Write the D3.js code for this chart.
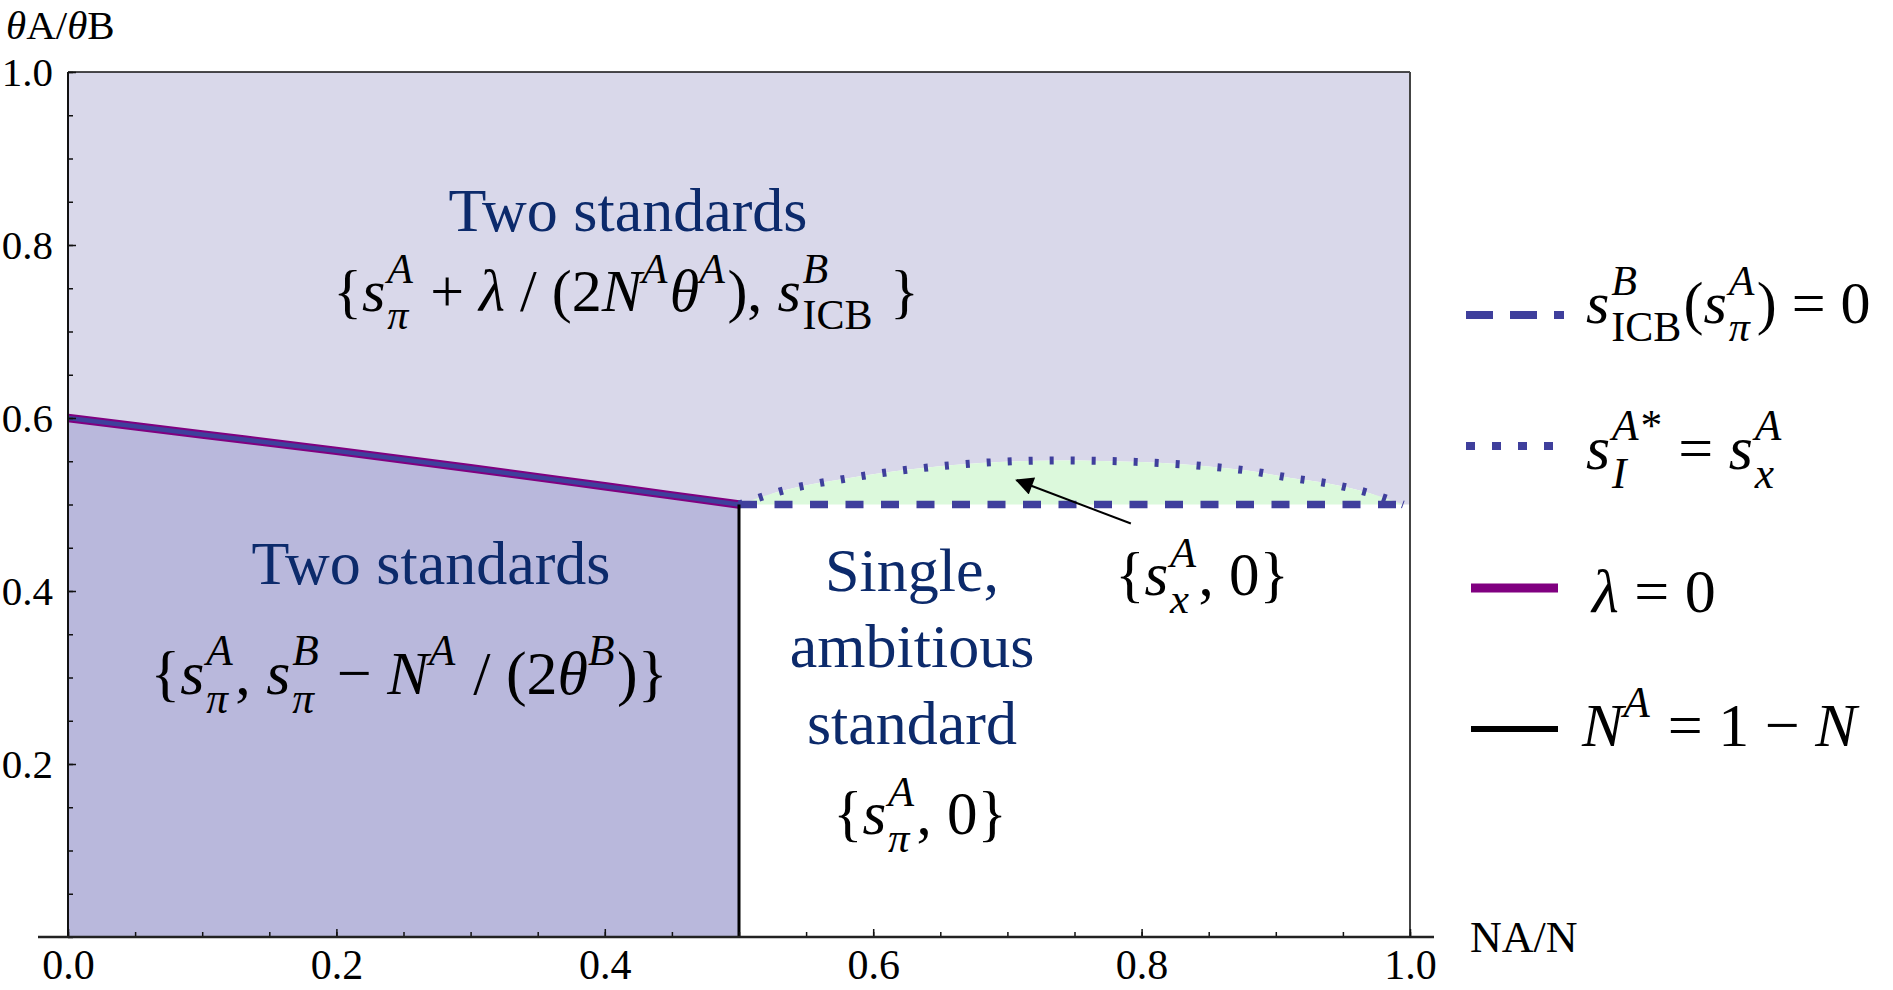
<!DOCTYPE html>
<html>
<head>
<meta charset="utf-8">
<script src="https://cdn.jsdelivr.net/npm/d3@7"></script>
<style>
    body { margin: 0; background: #fff; }
    svg text { font-family: "Liberation Serif", "Times New Roman", serif; white-space: pre; }
</style>
</head>
<body>
<svg id="chart" width="1893" height="990"></svg>
<script>
// lambda = 0 boundary (also where s_ICB^B(s_pi^A) = 0 on the left)
const lambdaX = [0, 0.1, 0.2, 0.3, 0.4, 0.5];
const lambdaY = [0.6, 0.581, 0.562, 0.542, 0.521, 0.5];

// s_ICB^B(s_pi^A) = 0, right part (dashed)
const icbX = [0.5, 0.99];
const icbY = [0.5, 0.5];

// s_I^A* = s_x^A (dotted arc)
const arcX = [0.5, 0.53, 0.58, 0.63, 0.68, 0.74, 0.8, 0.85, 0.88, 0.91, 0.94, 0.97, 0.995];
const arcY = [0.5, 0.515, 0.53, 0.541, 0.548, 0.551, 0.549, 0.544, 0.539, 0.531, 0.524, 0.513, 0.5];

// N^A = 1 - N
const splitX = [0.5, 0.5];
const splitY = [0, 0.5];

const xTickValues = [0, 0.2, 0.4, 0.6, 0.8, 1.0];
const xTickLabels = ['0.0', '0.2', '0.4', '0.6', '0.8', '1.0'];
const yTickValues = [0.2, 0.4, 0.6, 0.8, 1.0];
const yTickLabels = ['0.2', '0.4', '0.6', '0.8', '1.0'];

// arrow pointing at the green region
const arrowFrom = [0.792, 0.478];
const arrowTo = [0.707, 0.528];

const svg = d3.select('#chart');
const xScale = d3.scaleLinear().domain([0, 1]).range([68, 1410]);
const yScale = d3.scaleLinear().domain([0, 1]).range([937, 72]);

const blue = '#3f3f9c';
const purple = '#800080';
const navy = '#0c2a6b';
const serif = '"Liberation Serif", "Times New Roman", serif';

// ---- regions
const lambdaPts = d3.zip(lambdaX, lambdaY);
const arcPts = d3.zip(arcX, arcY);
const upperPts = lambdaPts.concat(arcPts.slice(1)).concat([[xScale.domain()[1], icbY[0]]]);

const curve = d3.curveMonotoneX;

svg.append('path')
    .datum(upperPts)
    .attr('fill', '#d9d8ea')
    .attr('d', d3.area().curve(curve)
        .x(d => xScale(d[0])).y0(d => yScale(d[1])).y1(yScale(1)));

svg.append('path')
    .datum(lambdaPts)
    .attr('fill', '#b9b8dc')
    .attr('d', d3.area().curve(curve)
        .x(d => xScale(d[0])).y0(yScale(0)).y1(d => yScale(d[1])));

svg.append('path')
    .datum(arcPts)
    .attr('fill', '#dcf9dc')
    .attr('d', d3.area().curve(curve)
        .x(d => xScale(d[0])).y0(yScale(icbY[0])).y1(d => yScale(d[1])));

// ---- frame
svg.append('line')
    .attr('x1', xScale(0)).attr('x2', xScale(1))
    .attr('y1', yScale(1)).attr('y2', yScale(1))
    .attr('stroke', '#111').attr('stroke-width', 1.5);
svg.append('line')
    .attr('x1', xScale(1)).attr('x2', xScale(1))
    .attr('y1', yScale(0)).attr('y2', yScale(1))
    .attr('stroke', '#444').attr('stroke-width', 2);

// ---- curves
const line = d3.line().curve(curve).x(d => xScale(d[0])).y(d => yScale(d[1]));

svg.append('path').datum(lambdaPts)
    .attr('fill', 'none').attr('stroke', purple).attr('stroke-width', 8.5)
    .attr('d', line);
svg.append('path').datum(lambdaPts)
    .attr('fill', 'none').attr('stroke', blue).attr('stroke-width', 4.5)
    .attr('d', line);

svg.append('path').datum(arcPts)
    .attr('fill', 'none').attr('stroke', blue).attr('stroke-width', 8)
    .attr('stroke-dasharray', '4,17')
    .attr('d', line);

svg.append('path').datum(d3.zip(icbX, icbY))
    .attr('fill', 'none').attr('stroke', blue).attr('stroke-width', 7.5)
    .attr('stroke-dasharray', '18,17.5')
    .attr('d', line);

svg.append('path').datum(d3.zip(splitX, splitY))
    .attr('fill', 'none').attr('stroke', '#000').attr('stroke-width', 3)
    .attr('d', d3.line().x(d => xScale(d[0])).y(d => yScale(d[1])));

// ---- axes
const minor = d3.range(0, 1.0001, 0.05);

const yAxis = svg.append('g')
    .attr('transform', 'translate(' + xScale(0) + ',0)')
    .call(d3.axisLeft(yScale).tickValues(minor).tickSize(-5).tickFormat(''));
yAxis.select('.domain').remove();
const yMajor = svg.append('g')
    .attr('transform', 'translate(' + xScale(0) + ',0)')
    .call(d3.axisLeft(yScale).tickValues(yTickValues).tickSize(-8).tickPadding(15)
        .tickFormat((d, i) => yTickLabels[i]));
yMajor.select('.domain').remove();
svg.append('line')
    .attr('x1', xScale(0)).attr('x2', xScale(0))
    .attr('y1', yScale(0)).attr('y2', yScale(1))
    .attr('stroke', '#111').attr('stroke-width', 2);

const xAxis = svg.append('g')
    .attr('transform', 'translate(0,' + yScale(0) + ')')
    .call(d3.axisBottom(xScale).tickValues(minor).tickSize(-5).tickFormat(''));
xAxis.select('.domain').remove();
const xMajor = svg.append('g')
    .attr('transform', 'translate(0,' + yScale(0) + ')')
    .call(d3.axisBottom(xScale).tickValues(xTickValues).tickSize(-8).tickPadding(12)
        .tickFormat((d, i) => xTickLabels[i]));
xMajor.select('.domain').remove();
svg.append('line')
    .attr('x1', xScale(0) - 30).attr('x2', xScale(1) + 24)
    .attr('y1', yScale(0)).attr('y2', yScale(0))
    .attr('stroke', '#222').attr('stroke-width', 2.5);

svg.selectAll('g').attr('font-family', serif);
svg.selectAll('.tick line').attr('stroke', '#111').attr('stroke-width', 1.5);
svg.selectAll('.tick text').attr('fill', '#000').style('font-family', serif);
yMajor.selectAll('.tick text').attr('font-size', 41);
xMajor.selectAll('.tick text').attr('font-size', 42);

// ---- math text helper
function mathText(parent, x, y, size, parts, opts) {
    opts = opts || {};
    const g = parent.append('g');
    let cur = 0;
    const add = (str, style, dy, fs) => {
        const t = g.append('text')
            .attr('xml:space', 'preserve')
            .attr('x', cur).attr('y', dy)
            .attr('font-size', fs)
            .attr('font-style', style === 'i' ? 'italic' : 'normal')
            .attr('fill', opts.color || '#000')
            .style('font-family', serif)
            .text(str);
        return t.node().getComputedTextLength();
    };
    parts.forEach(p => {
        const kind = p[0];
        if (kind === 'r' || kind === 'i') {
            cur += add(p[1], kind, 0, size);
        } else if (kind === 'sup') {
            cur += add(p[1], p[2] || 'i', -0.46 * size, 0.7 * size) + 0.04 * size;
        } else if (kind === 'ss') {
            cur += 0.03 * size;
            const w1 = add(p[1], 'i', -0.46 * size, 0.7 * size);
            const w2 = add(p[2], p[3] || 'i', 0.3 * size, 0.7 * size);
            cur += Math.max(w1, w2) + 0.04 * size;
        }
    });
    const shift = opts.anchor === 'start' ? 0 : -cur / 2;
    g.attr('transform', 'translate(' + (x + shift) + ',' + y + ')');
    return g;
}

function label(str, x, y, size) {
    svg.append('text')
        .attr('x', x).attr('y', y)
        .attr('text-anchor', 'middle')
        .attr('font-size', size)
        .attr('fill', navy)
        .style('font-family', serif)
        .text(str);
}

// ---- region labels
label('Two standards', 628, 231, 62);
mathText(svg, 626, 311, 60, [
    ['r', '{'], ['i', 's'], ['ss', 'A', 'π'], ['r', ' + '], ['i', 'λ'], ['r', ' / (2'],
    ['i', 'N'], ['sup', 'A'], ['i', 'θ'], ['sup', 'A'], ['r', '), '],
    ['i', 's'], ['ss', 'B', 'ICB', 'r'], ['r', ' }']
]);

label('Two standards', 431, 584, 62);
mathText(svg, 409, 694, 62, [
    ['r', '{'], ['i', 's'], ['ss', 'A', 'π'], ['r', ', '], ['i', 's'], ['ss', 'B', 'π'],
    ['r', ' − '], ['i', 'N'], ['sup', 'A'], ['r', ' / (2'], ['i', 'θ'], ['sup', 'B'], ['r', ')}']
]);

label('Single,', 912, 591, 62);
label('ambitious', 912, 667, 62);
label('standard', 912, 744, 62);
mathText(svg, 920, 834, 61, [
    ['r', '{'], ['i', 's'], ['ss', 'A', 'π'], ['r', ', 0}']
]);

mathText(svg, 1202, 595, 61, [
    ['r', '{'], ['i', 's'], ['ss', 'A', 'x'], ['r', ', 0}']
]);

// ---- arrow
svg.append('defs').append('marker')
    .attr('id', 'head')
    .attr('viewBox', '0 0 10 10')
    .attr('refX', 9).attr('refY', 5)
    .attr('markerWidth', 24).attr('markerHeight', 18)
    .attr('markerUnits', 'userSpaceOnUse')
    .attr('orient', 'auto')
    .append('path').attr('d', 'M0,0L10,5L0,10Z').attr('fill', '#000');
svg.append('line')
    .attr('x1', xScale(arrowFrom[0])).attr('y1', yScale(arrowFrom[1]))
    .attr('x2', xScale(arrowTo[0])).attr('y2', yScale(arrowTo[1]))
    .attr('stroke', '#000').attr('stroke-width', 2)
    .attr('marker-end', 'url(#head)');

// ---- axis titles
mathText(svg, 6, 39, 41, [['i', 'θ'], ['r', 'A/'], ['i', 'θ'], ['r', 'B']], {anchor: 'start'});
svg.append('text')
    .attr('x', 1470).attr('y', 952)
    .attr('font-size', 44)
    .style('font-family', serif)
    .text('NA/N');

// ---- legend
const legend = svg.append('g');
const lx0 = 1466, lx1 = 1564;

legend.append('line').attr('x1', lx0).attr('x2', lx1).attr('y1', 315).attr('y2', 315)
    .attr('stroke', blue).attr('stroke-width', 8).attr('stroke-dasharray', '27,17');
mathText(legend, 1586, 323, 60, [
    ['i', 's'], ['ss', 'B', 'ICB', 'r'], ['r', '('], ['i', 's'], ['ss', 'A', 'π'], ['r', ') = 0']
], {anchor: 'start'});

legend.append('line').attr('x1', lx0).attr('x2', lx1 - 6).attr('y1', 446).attr('y2', 446)
    .attr('stroke', blue).attr('stroke-width', 8).attr('stroke-dasharray', '9,17');
mathText(legend, 1586, 469, 62, [
    ['i', 's'], ['ss', 'A*', 'I'], ['r', ' = '], ['i', 's'], ['ss', 'A', 'x']
], {anchor: 'start'});

legend.append('line').attr('x1', 1471).attr('x2', 1558).attr('y1', 588).attr('y2', 588)
    .attr('stroke', purple).attr('stroke-width', 9);
mathText(legend, 1592, 612, 62, [['i', 'λ'], ['r', ' = 0']], {anchor: 'start'});

legend.append('line').attr('x1', 1471).attr('x2', 1558).attr('y1', 729).attr('y2', 729)
    .attr('stroke', '#000').attr('stroke-width', 6);
mathText(legend, 1582, 746, 62, [['i', 'N'], ['sup', 'A'], ['r', ' = 1 − '], ['i', 'N']], {anchor: 'start'});
</script>
</body>
</html>
